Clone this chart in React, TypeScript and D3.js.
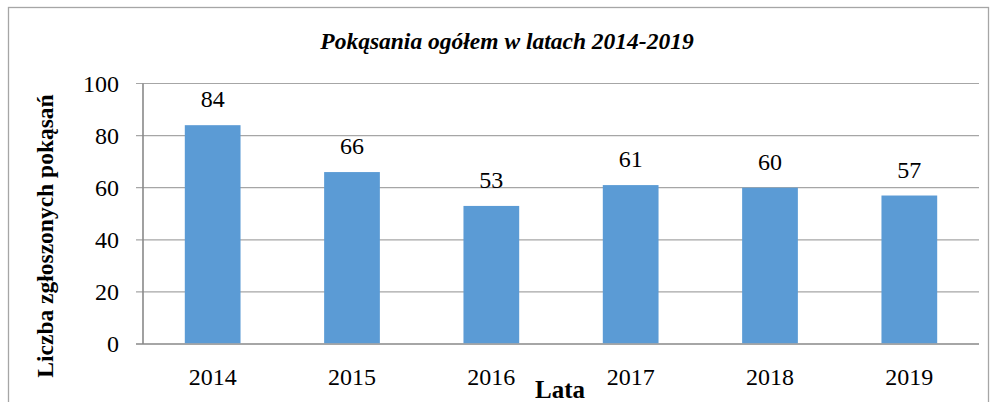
import React from "react";
import * as d3 from "d3";

const years = ["2014", "2015", "2016", "2017", "2018", "2019"];
const bites = [84, 66, 53, 61, 60, 57];
const yTicks = [0, 20, 40, 60, 80, 100];

const W = 995;
const H = 402;
const plot = { left: 143, right: 979, top: 83.5, bottom: 344 };
const serif = { fontFamily: "Liberation Serif" };

export default function App() {
  const x = d3.scaleBand().domain(years).range([plot.left, plot.right]);
  const y = d3.scaleLinear().domain([0, 100]).range([plot.bottom, plot.top]);
  const barW = x.bandwidth() * 0.4;

  return (
    <svg width={W} height={H} style={{ position: "absolute", left: 0, top: 0, background: "#fff" }}>
      {/* chart frame, bottom edge is off the page */}
      <rect x={8.5} y={7.5} width={980} height={420} fill="none" stroke="#a6a6a6" strokeWidth={1.3} />

      <text x={507} y={49} textAnchor="middle" fontSize={23.5} fontWeight="bold" fontStyle="italic" style={serif}>
        Pokąsania ogółem w latach 2014-2019
      </text>

      {/* gridlines + ticks */}
      {yTicks.map((t) => (
        <g key={t}>
          <line
            x1={136}
            x2={plot.right}
            y1={y(t)}
            y2={y(t)}
            stroke={t === 0 ? "#898989" : "#a6a6a6"}
            strokeWidth={t === 0 ? 1.6 : 1.2}
          />
          <text x={119} y={y(t)} dy="0.35em" textAnchor="end" fontSize={24} style={serif}>
            {t}
          </text>
        </g>
      ))}
      <line x1={plot.left} x2={plot.left} y1={plot.top} y2={plot.bottom} stroke="#898989" strokeWidth={1.6} />

      {/* bars */}
      {years.map((yr, i) => {
        const cx = (x(yr) as number) + x.bandwidth() / 2;
        return (
          <g key={yr}>
            <rect
              x={cx - barW / 2}
              y={y(bites[i])}
              width={barW}
              height={plot.bottom - y(bites[i]) - 0.8}
              fill="#5b9bd5"
            />
            <text x={cx} y={y(bites[i]) - 18} textAnchor="middle" fontSize={24} style={serif}>
              {bites[i]}
            </text>
            <text x={cx} y={385} textAnchor="middle" fontSize={24} style={serif}>
              {yr}
            </text>
          </g>
        );
      })}

      <text x={560} y={398} textAnchor="middle" fontSize={25} fontWeight="bold" style={serif}>
        Lata
      </text>
      <text
        transform="translate(53,236) rotate(-90)"
        textAnchor="middle"
        fontSize={23.5}
        fontWeight="bold"
        style={serif}
      >
        Liczba zgłoszonych pokąsań
      </text>
    </svg>
  );
}
